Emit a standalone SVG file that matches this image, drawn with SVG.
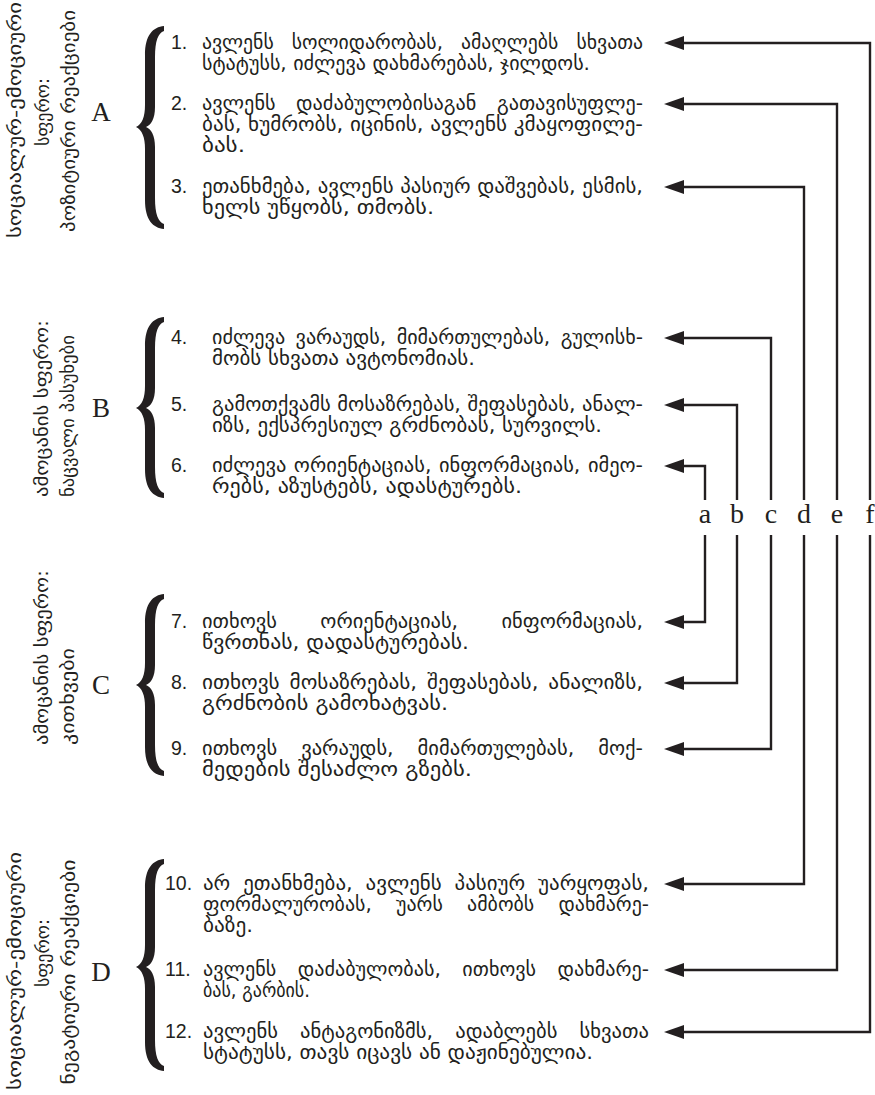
<svg xmlns="http://www.w3.org/2000/svg" width="875" height="1095" viewBox="0 0 875 1095">
<style>
.t{font-family:"DejaVu Sans","Noto Sans",sans-serif;font-size:20px;fill:#231f20}
.n{font-family:"Liberation Sans",Arial,sans-serif;font-size:19.5px;fill:#231f20}
.lab{font-family:"DejaVu Sans","Noto Sans",sans-serif;font-size:18px;fill:#231f20}
.big{font-family:"Liberation Serif","Times New Roman",serif;font-size:27px;fill:#231f20}
.key{font-family:"Liberation Serif","Times New Roman",serif;font-size:28px;fill:#231f20;text-anchor:middle}
.brace{fill:#231f20}
.con{fill:none;stroke:#231f20;stroke-width:2.4;marker-end:url(#ah)}
</style>
<defs>
<marker id="ah" viewBox="0 0 20 14" refX="10" refY="7" markerWidth="20" markerHeight="14" markerUnits="userSpaceOnUse" orient="auto">
<polygon points="0,0 20,7 0,14" fill="#231f20"/>
</marker>
</defs>

<g id="groupA">
<text class="lab" transform="translate(21,120) rotate(-90)" text-anchor="middle" textLength="236" lengthAdjust="spacingAndGlyphs">სოციალურ-ემოციური</text>
<text class="lab" transform="translate(49,112) rotate(-90)" text-anchor="middle">სფერო:</text>
<text class="lab" transform="translate(75,121) rotate(-90)" text-anchor="middle" textLength="222" lengthAdjust="spacingAndGlyphs">პოზიტიური რეაქციები</text>
<text class="big" x="101" y="121" text-anchor="middle">A</text>
<path class="brace" d="M164,26 C153,27 145,35 145,55 L145,105 C145,117 142,124 136,127 C142,130 145,137 145,149 L145,200 C145,220 153,228 164,229 L164,224 C158,222 155,214 155,198 L155,147 C155,135 151,129 146,127 C151,125 155,119 155,107 L155,57 C155,41 158,33 164,31 Z"/>
</g>

<g id="groupB">
<text class="lab" transform="translate(48,497) rotate(-90)" textLength="177" lengthAdjust="spacingAndGlyphs">ამოცანის სფერო:</text>
<text class="lab" transform="translate(74,497) rotate(-90)" textLength="162" lengthAdjust="spacingAndGlyphs">ნაცვალი პასუხები</text>
<text class="big" x="101" y="417" text-anchor="middle">B</text>
<path class="brace" d="M164,317 C153,318 145,326 145,346 L145,386 C145,398 142,405 136,408 C142,411 145,418 145,430 L145,469 C145,489 153,497 164,498 L164,493 C158,491 155,483 155,467 L155,428 C155,416 151,410 146,408 C151,406 155,400 155,388 L155,348 C155,332 158,324 164,322 Z"/>
</g>

<g id="groupC">
<text class="lab" transform="translate(48,745) rotate(-90)" textLength="175" lengthAdjust="spacingAndGlyphs">ამოცანის სფერო:</text>
<text class="lab" transform="translate(74,745) rotate(-90)" textLength="97" lengthAdjust="spacingAndGlyphs">კითხვები</text>
<text class="big" x="101" y="694" text-anchor="middle">C</text>
<path class="brace" d="M164,594 C153,595 145,603 145,623 L145,663 C145,675 142,682 136,685 C142,688 145,695 145,707 L145,747 C145,767 153,775 164,776 L164,771 C158,769 155,761 155,745 L155,705 C155,693 151,687 146,685 C151,683 155,677 155,665 L155,625 C155,609 158,601 164,599 Z"/>
</g>

<g id="groupD">
<text class="lab" transform="translate(21,971) rotate(-90)" text-anchor="middle" textLength="238" lengthAdjust="spacingAndGlyphs">სოციალურ-ემოციური</text>
<text class="lab" transform="translate(49,953) rotate(-90)" text-anchor="middle">სფერო:</text>
<text class="lab" transform="translate(75,972) rotate(-90)" text-anchor="middle" textLength="225" lengthAdjust="spacingAndGlyphs">ნეგატიური რეაქციები</text>
<text class="big" x="101" y="981" text-anchor="middle">D</text>
<path class="brace" d="M164,859 C153,860 145,868 145,888 L145,945 C145,957 142,964 136,967 C142,970 145,977 145,989 L145,1042 C145,1062 153,1070 164,1071 L164,1066 C158,1064 155,1056 155,1040 L155,987 C155,975 151,969 146,967 C151,965 155,959 155,947 L155,890 C155,874 158,866 164,864 Z"/>
</g>

<g id="item1">
<text class="n" x="171" y="49">1.</text>
<text class="t" x="202" y="49" textLength="441" lengthAdjust="spacingAndGlyphs" word-spacing="12">ავლენს სოლიდარობას, ამაღლებს სხვათა</text>
<text class="t" x="202" y="70" textLength="388" lengthAdjust="spacingAndGlyphs">სტატუსს, იძლევა დახმარებას, ჯილდოს.</text>
</g>
<g id="item2">
<text class="n" x="171" y="110">2.</text>
<text class="t" x="202" y="110" textLength="441" lengthAdjust="spacingAndGlyphs" word-spacing="14">ავლენს დაძაბულობისაგან გათავისუფლე-</text>
<text class="t" x="202" y="131" textLength="441" lengthAdjust="spacingAndGlyphs">ბას, ხუმრობს, იცინის, ავლენს კმაყოფილე-</text>
<text class="t" x="202" y="152" textLength="43" lengthAdjust="spacingAndGlyphs">ბას.</text>
</g>
<g id="item3">
<text class="n" x="171" y="193">3.</text>
<text class="t" x="202" y="193" textLength="441" lengthAdjust="spacingAndGlyphs">ეთანხმება, ავლენს პასიურ დაშვებას, ესმის,</text>
<text class="t" x="202" y="214" textLength="232" lengthAdjust="spacingAndGlyphs">ხელს უწყობს, თმობს.</text>
</g>
<g id="item4">
<text class="n" x="171" y="344">4.</text>
<text class="t" x="212" y="344" textLength="431" lengthAdjust="spacingAndGlyphs" word-spacing="4">იძლევა ვარაუდს, მიმართულებას, გულისხ-</text>
<text class="t" x="212" y="365" textLength="263" lengthAdjust="spacingAndGlyphs">მობს სხვათა ავტონომიას.</text>
</g>
<g id="item5">
<text class="n" x="171" y="411">5.</text>
<text class="t" x="212" y="411" textLength="431" lengthAdjust="spacingAndGlyphs">გამოთქვამს მოსაზრებას, შეფასებას, ანალ-</text>
<text class="t" x="212" y="432" textLength="390" lengthAdjust="spacingAndGlyphs">იზს, ექსპრესიულ გრძნობას, სურვილს.</text>
</g>
<g id="item6">
<text class="n" x="171" y="472">6.</text>
<text class="t" x="212" y="472" textLength="431" lengthAdjust="spacingAndGlyphs" word-spacing="1">იძლევა ორიენტაციას, ინფორმაციას, იმეო-</text>
<text class="t" x="212" y="493" textLength="310" lengthAdjust="spacingAndGlyphs">რებს, აზუსტებს, ადასტურებს.</text>
</g>
<g id="item7">
<text class="n" x="171" y="628">7.</text>
<text class="t" x="202" y="628" textLength="441" lengthAdjust="spacingAndGlyphs" word-spacing="36">ითხოვს ორიენტაციას, ინფორმაციას,</text>
<text class="t" x="202" y="649" textLength="267" lengthAdjust="spacingAndGlyphs">წვრთნას, დადასტურებას.</text>
</g>
<g id="item8">
<text class="n" x="171" y="689">8.</text>
<text class="t" x="202" y="689" textLength="441" lengthAdjust="spacingAndGlyphs" word-spacing="3">ითხოვს მოსაზრებას, შეფასებას, ანალიზს,</text>
<text class="t" x="202" y="710" textLength="246" lengthAdjust="spacingAndGlyphs">გრძნობის გამოხატვას.</text>
</g>
<g id="item9">
<text class="n" x="171" y="755">9.</text>
<text class="t" x="202" y="755" textLength="441" lengthAdjust="spacingAndGlyphs" word-spacing="17">ითხოვს ვარაუდს, მიმართულებას, მოქ-</text>
<text class="t" x="202" y="776" textLength="270" lengthAdjust="spacingAndGlyphs">მედების შესაძლო გზებს.</text>
</g>
<g id="item10">
<text class="n" x="165" y="890">10.</text>
<text class="t" x="203" y="890" textLength="446" lengthAdjust="spacingAndGlyphs" word-spacing="6">არ ეთანხმება, ავლენს პასიურ უარყოფას,</text>
<text class="t" x="203" y="911" textLength="446" lengthAdjust="spacingAndGlyphs" word-spacing="18">ფორმალურობას, უარს ამბობს დახმარე-</text>
<text class="t" x="203" y="932" textLength="50" lengthAdjust="spacingAndGlyphs">ბაზე.</text>
</g>
<g id="item11">
<text class="n" x="165" y="976">11.</text>
<text class="t" x="203" y="976" textLength="446" lengthAdjust="spacingAndGlyphs" word-spacing="15">ავლენს დაძაბულობას, ითხოვს დახმარე-</text>
<text class="t" x="203" y="997" textLength="107" lengthAdjust="spacingAndGlyphs">ბას, გარბის.</text>
</g>
<g id="item12">
<text class="n" x="165" y="1038">12.</text>
<text class="t" x="203" y="1038" textLength="446" lengthAdjust="spacingAndGlyphs" word-spacing="15">ავლენს ანტაგონიზმს, ადაბლებს სხვათა</text>
<text class="t" x="203" y="1059" textLength="390" lengthAdjust="spacingAndGlyphs">სტატუსს, თავს იცავს ან დაჟინებულია.</text>
</g>

<g id="keys">
<text class="key" x="705" y="523">a</text>
<text class="key" x="737" y="523">b</text>
<text class="key" x="771" y="523">c</text>
<text class="key" x="804" y="523">d</text>
<text class="key" x="837" y="523">e</text>
<text class="key" x="870" y="523">f</text>
</g>

<g id="connectors">
<path class="con" d="M870,500 V43 H674"/>
<path class="con" d="M837,500 V104 H674"/>
<path class="con" d="M804,500 V187 H674"/>
<path class="con" d="M771,500 V338 H674"/>
<path class="con" d="M737,500 V405 H674"/>
<path class="con" d="M705,500 V466 H674"/>
<path class="con" d="M705,535 V622 H674"/>
<path class="con" d="M737,535 V683 H674"/>
<path class="con" d="M771,535 V749 H674"/>
<path class="con" d="M804,535 V884 H674"/>
<path class="con" d="M837,535 V970 H674"/>
<path class="con" d="M870,535 V1032 H674"/>
</g>
</svg>
